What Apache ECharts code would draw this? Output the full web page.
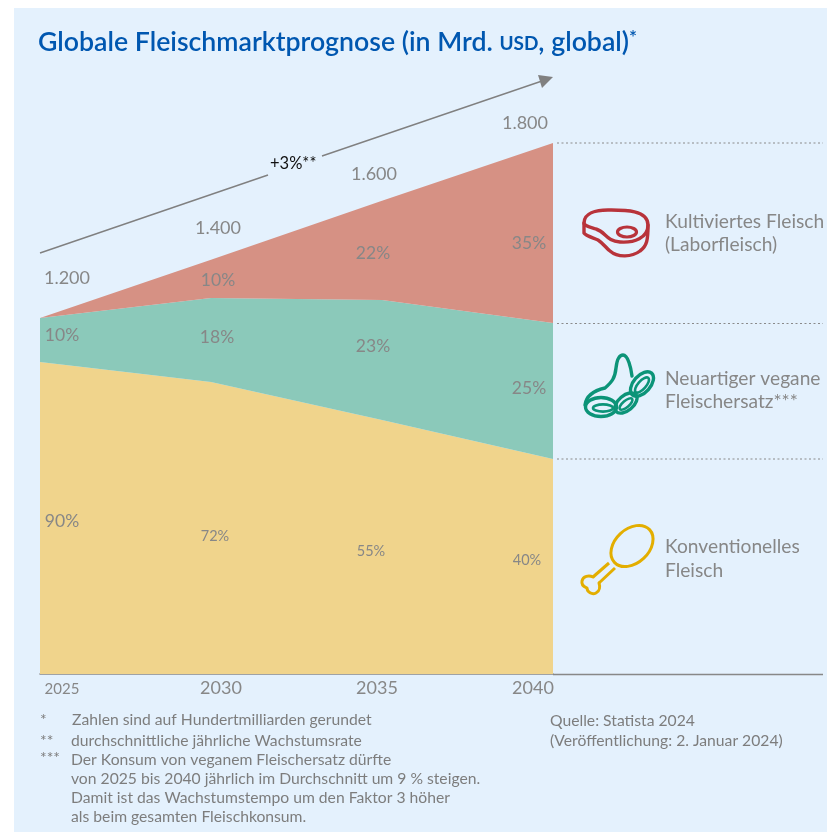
<!DOCTYPE html>
<html><head><meta charset="utf-8">
<style>html,body{margin:0;padding:0;background:#fff}#c{width:827px;height:832px}</style>
<script src="https://cdn.jsdelivr.net/npm/echarts@6/dist/echarts.min.js"></script>
</head><body><div id="c"></div>
<script>
const years = ['2025','2030','2035','2040'];
const conventional = [1058, 990, 861, 729];
const vegan = [149, 285, 407, 461];
const cultivated = [0, 129, 336, 610];
const totalLabels = ['1.200','1.400','1.600','1.800'];
const conventionalShares = ['90%','72%','55%','40%'];
const veganShares = ['10%','18%','23%','25%'];
const cultivatedShares = ['10%','22%','35%'];
const FONT = 'Lato';
const GREY = '#878787';
echarts.graphic.registerShape('svgPath', echarts.graphic.extendShape({
  shape:{d:''},
  buildPath(ctx,shape){
    const tk=shape.d.match(/[MCLZ]|-?[\d.]+/g);let i=0,cmd='';
    const n=()=>parseFloat(tk[i++]);
    while(i<tk.length){
      if(/[MCLZ]/.test(tk[i])) cmd=tk[i++];
      if(cmd==='M') ctx.moveTo(n(),n());
      else if(cmd==='L') ctx.lineTo(n(),n());
      else if(cmd==='C') ctx.bezierCurveTo(n(),n(),n(),n(),n(),n());
      else if(cmd==='Z') ctx.closePath();
    }
  }
}));
const chart = echarts.init(document.getElementById('c'), null, {renderer:'canvas'});
function t(text,x,y,size,color,extra){
  return {type:'text',z:20,style:Object.assign({text,x,y,fontSize:size,fontFamily:FONT,fill:color||GREY,textVerticalAlign:'middle',textAlign:'left'},extra||{})};
}
const c = s => t(s[0],s[1],s[2],s[3],s[4],{textAlign:'center'});
const totalPos=[[67,278],[218,228],[374,174],[525,123]];
const cultPos=[[218,280],[373,253],[529,243]];
const vegPos=[[62,335],[217,337],[373,346],[529,388]];
const convPos=[[62,521,17.5],[215,536,14.5],[371,551,14.5],[527,560,14.5]];
const RED='#B8333A',GRN='#0C9478',YEL='#E3AE00';
const sty=(col,w)=>({stroke:col,fill:'none',lineWidth:w||3,lineCap:'round',lineJoin:'round'});
const ell=(cx,cy,rx,ry,rot,col,w)=>({type:'ellipse',z:15,shape:{cx,cy,rx,ry},originX:cx,originY:cy,rotation:rot,style:sty(col,w)});
const path=(d,col,w)=>({type:'svgPath',z:15,shape:{d},style:sty(col,w)});
const line=(x1,y1,x2,y2,style)=>({type:'line',z:10,shape:{x1,y1,x2,y2},style});
const dotted={stroke:'#8a8a8a',lineWidth:1,lineDash:[2,2.5]};
const arrowStyle={stroke:'#808080',lineWidth:1.4};
const FS=15.7;
const foot=[['*',40,720],['Zahlen sind auf Hundertmilliarden gerundet',72,720],['**',40,741],['durchschnittliche jährliche Wachstumsrate',71,741],['***',40,758],['Der Konsum von veganem Fleischersatz dürfte',71,760],['von 2025 bis 2040 jährlich im Durchschnitt um 9 % steigen.',71,779],['Damit ist das Wachstumstempo um den Faktor 3 höher',71,798],['als beim gesamten Fleischkonsum.',71,817],['Quelle: Statista 2024',550,721],['(Veröffentlichung: 2. Januar 2024)',550,741]];
const graphic=[
 {type:'rect',z:-10,shape:{x:14,y:8,width:813,height:824},style:{fill:'#E4F1FD'}},
 {type:'text',z:20,style:{x:38,y:42,textVerticalAlign:'middle',
   rich:{a:{fontSize:26.7,fontWeight:600,fontFamily:FONT,fill:'#0057B0',verticalAlign:'bottom'},s:{fontSize:19,fontWeight:700,fontFamily:FONT,fill:'#0057B0',verticalAlign:'bottom',padding:[0,0,2,0]},u:{fontSize:19,fontWeight:600,fontFamily:FONT,fill:'#0057B0',verticalAlign:'top'}},
   text:'{a|Globale Fleischmarktprognose (in Mrd. }{s|USD}{a|, global)}{u|*}'}},
 line(40,253,268,175,arrowStyle),
 line(322,156,542,81,arrowStyle),
 {type:'polygon',z:10,shape:{points:[[553,77],[538,75],[542,88]]},style:{fill:'#808080'}},
 t('+3%**',270,164,16.5,'#111'),
 line(553,674.5,823,674.5,{stroke:'#888',lineWidth:1.6}),
 line(557,143,823,143,dotted),
 line(557,323.5,823,323.5,dotted),
 line(557,459,823,459,dotted),
 t('Kultiviertes Fleisch',665,222,19.2),t('(Laborfleisch)',665,245,19.2),
 t('Neuartiger vegane',665,379,19.2),t('Fleischersatz***',665,402,19.2),
 t('Konventionelles',665,547,19.2),t('Fleisch',665,571,19.2),
 // steak icon
 path('M584 223 C584 213 596 210 608 210 C622 210 648 209 648 225 C648 238 634 243 620 242 C606 241 606 232 596 229 C590 227 584 226 584 223 Z',RED,3.4),
 path('M584 223 L584 233 C586 236 594 238 598 240 C604 244 606 248 610 251 C618 258 632 257 640 251 C647 246 648 240 648 225',RED,3.4),
 ell(627,232,9.5,5,0,RED,3.2),
 // bean icon
 path('M585 405 C586 397 592 391 605 388 C612 382 615 378 616 368 C617 359 619 355 623 355 C628 355 631 368 632 376',GRN,3.4),
 ell(642,384,14.5,8.5,0.85,GRN,3.4),ell(642,385,9.5,4,0.85,GRN,2.6),
 ell(626,403,13,7.5,0.7,GRN,3.4),ell(626,404,8,3.2,0.7,GRN,2.6),
 ell(601,407,15.5,9.5,0,GRN,3.4),ell(603,408,10,3.6,0,GRN,2.6),
 // drumstick icon
 ell(632,546,24,17,0.75,YEL),
 line(609,563,593,577,Object.assign(sty(YEL),{lineCap:'butt'})),
 line(615,568,599,583,Object.assign(sty(YEL),{lineCap:'butt'})),
 path('M593 577 C589 575 583 576 582 581 C581 586 585 587 587 588 C587 592 592 595 596 593 C600 591 600 586 599 583',YEL),
];
totalLabels.forEach((s,i)=>graphic.push(c([s,totalPos[i][0],totalPos[i][1],18])));
cultivatedShares.forEach((s,i)=>graphic.push(c([s,cultPos[i][0],cultPos[i][1],17.5])));
veganShares.forEach((s,i)=>graphic.push(c([s,vegPos[i][0],vegPos[i][1],17.5])));
conventionalShares.forEach((s,i)=>graphic.push(c([s,convPos[i][0],convPos[i][1],convPos[i][2]])));
foot.forEach(f=>graphic.push(t(f[0],f[1],f[2],FS,'#7d7d7d')));
const area=(name,data,color)=>({name,type:'line',stack:'all',data,symbol:'none',lineStyle:{width:0},areaStyle:{color,opacity:1},silent:true});
chart.setOption({
 animation:false,
 grid:{left:40,right:274,top:143,bottom:158},
 xAxis:{type:'category',boundaryGap:false,data:years,
   axisLine:{lineStyle:{color:'#888',width:1.6}},axisTick:{show:false},
   axisLabel:{margin:5,interval:0,hideOverlap:false,showMinLabel:true,showMaxLabel:true,
     formatter:(v,i)=>`{l${i}|${v}}`,
     rich:{l0:{fontSize:15,fontFamily:FONT,color:GREY,padding:[3,0,0,44]},
           l1:{fontSize:18,fontFamily:FONT,color:GREY,padding:[0,0,0,20]},
           l2:{fontSize:18,fontFamily:FONT,color:GREY,padding:[0,10,0,0]},
           l3:{fontSize:18,fontFamily:FONT,color:GREY,padding:[0,40,0,0]}}}},
 yAxis:{type:'value',min:0,max:1800,show:false},
 series:[area('Konventionelles Fleisch',conventional,'#F0D48C'),area('Neuartiger veganer Fleischersatz',vegan,'#8BC9BA'),area('Kultiviertes Fleisch',cultivated,'#D69184')],
 graphic:{elements:graphic}
});
</script></body></html>
